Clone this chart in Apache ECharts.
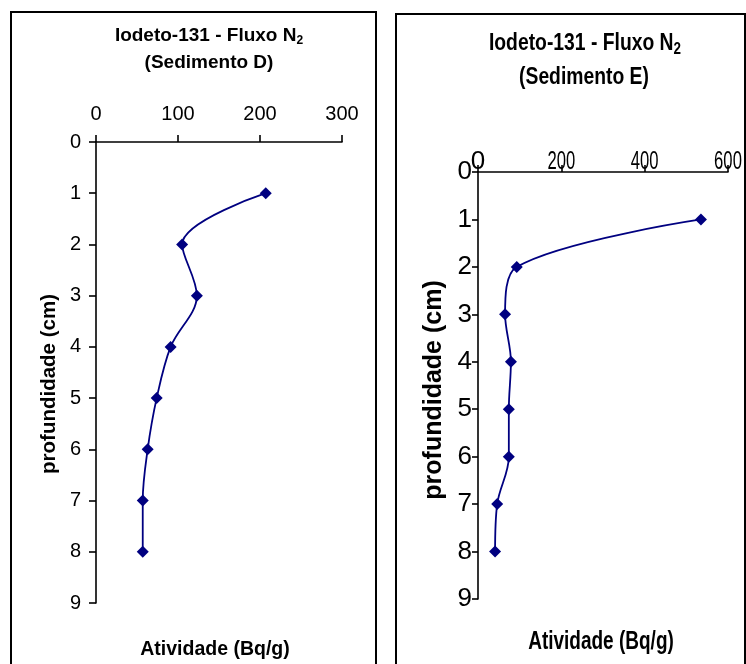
<!DOCTYPE html>
<html><head><meta charset="utf-8">
<script src="https://cdn.jsdelivr.net/npm/echarts@6/dist/echarts.min.js"></script>
<style>html,body{margin:0;padding:0;background:#fff}#c{width:746px;height:664px}</style>
</head><body><div id="c"></div>
<script>
// Depth (cm) and activity (Bq/g)
const depthD = [1, 2, 3, 4, 5, 6, 7, 8];
const activityD = [207, 105, 123, 91, 74, 63, 57, 57];
const depthE = [1, 2, 3, 4, 5, 6, 7, 8];
const activityE = [535, 93, 65, 79, 74, 74, 46, 41];
const ticksXD = [0, 100, 200, 300];
const ticksXE = [0, 200, 400, 600];
const titleD = ['Iodeto-131 - Fluxo N{sub|2}', '(Sedimento D)'];
const titleE = ['Iodeto-131 - Fluxo N{sub|2}', '(Sedimento E)'];
const yName = 'profundidade (cm)';
const xName = 'Atividade (Bq/g)';

const F = "'Liberation Sans', Arial, sans-serif";
const navy = '#000080';

const chart = echarts.init(document.getElementById('c'), null, {renderer: 'canvas'});
function pairs(xs, ys) { return xs.map((v, i) => [v, ys[i]]); }
const axLine = {show: true, lineStyle: {color: '#000', width: 1.6}};

chart.setOption({
  animation: false,
  backgroundColor: '#fff',
  grid: [
    {left: 96, top: 142, width: 246, height: 461},
    {left: 478, top: 172, width: 250, height: 427}
  ],
  xAxis: [
    {gridIndex: 0, type: 'value', position: 'top', min: ticksXD[0], max: ticksXD[3], interval: 100,
     axisLine: axLine,
     axisTick: {show: true, length: 7, lineStyle: {color: '#000', width: 1.6}},
     axisLabel: {color: '#000', fontFamily: F, fontSize: 20, margin: 18},
     splitLine: {show: false}},
    {gridIndex: 1, type: 'value', position: 'top', min: ticksXE[0], max: ticksXE[3], interval: 200,
     axisLine: axLine,
     axisTick: {show: true, length: 7, lineStyle: {color: '#000', width: 1.6}},
     axisLabel: {show: false},
     splitLine: {show: false}}
  ],
  yAxis: [
    {gridIndex: 0, type: 'value', inverse: true, min: 0, max: 9, interval: 1,
     axisLine: axLine,
     axisTick: {show: true, length: 7, lineStyle: {color: '#000', width: 1.6}},
     axisLabel: {color: '#000', fontFamily: F, fontSize: 20, margin: 15},
     splitLine: {show: false}},
    {gridIndex: 1, type: 'value', inverse: true, min: 0, max: 9, interval: 1,
     axisLine: axLine,
     axisTick: {show: true, length: 6, lineStyle: {color: '#000', width: 1.6}},
     axisLabel: {color: '#000', fontFamily: F, fontSize: 26, margin: 6},
     splitLine: {show: false}}
  ],
  series: [
    {type: 'line', xAxisIndex: 0, yAxisIndex: 0, data: pairs(activityD, depthD),
     smooth: 0.35, symbol: 'diamond', symbolSize: 12, showSymbol: true,
     lineStyle: {color: navy, width: 1.8}, itemStyle: {color: navy}},
    {type: 'line', xAxisIndex: 1, yAxisIndex: 1, data: pairs(activityE, depthE),
     smooth: 0.35, symbol: 'diamond', symbolSize: 12, showSymbol: true,
     lineStyle: {color: navy, width: 1.8}, itemStyle: {color: navy}}
  ]
});

const g = [
  {type: 'rect', shape: {x: 11, y: 12, width: 365, height: 700},
   style: {fill: 'none', stroke: '#000', lineWidth: 2}, silent: true},
  {type: 'rect', shape: {x: 396, y: 14, width: 349, height: 700},
   style: {fill: 'none', stroke: '#000', lineWidth: 2}, silent: true},
  // left panel texts
  {type: 'text', x: 209, y: 36, style: {text: titleD[0], align: 'center', verticalAlign: 'middle',
    fill: '#000', font: 'bold 19px ' + F,
    rich: {sub: {fontSize: 12, fontWeight: 'bold', fontFamily: F, padding: [9, 0, 0, 0]}}}},
  {type: 'text', x: 209, y: 63, style: {text: titleD[1], align: 'center', verticalAlign: 'middle',
    fill: '#000', font: 'bold 19px ' + F}},
  {type: 'text', x: 49, y: 384, rotation: Math.PI / 2, style: {text: yName, align: 'center', verticalAlign: 'middle',
    fill: '#000', font: 'bold 20.5px ' + F}},
  {type: 'text', x: 215, y: 650, style: {text: xName, align: 'center', verticalAlign: 'middle',
    fill: '#000', font: 'bold 19.5px ' + F}},
  // right panel texts (condensed look)
  {type: 'text', x: 585, y: 44, scaleX: 0.84, style: {text: titleE[0], align: 'center', verticalAlign: 'middle',
    fill: '#000', font: 'bold 23px ' + F,
    rich: {sub: {fontSize: 16, fontWeight: 'bold', fontFamily: F, padding: [12, 0, 0, 0]}}}},
  {type: 'text', x: 584, y: 78, scaleX: 0.84, style: {text: titleE[1], align: 'center', verticalAlign: 'middle',
    fill: '#000', font: 'bold 23px ' + F}},
  {type: 'text', x: 434, y: 390, rotation: Math.PI / 2, style: {text: yName, align: 'center', verticalAlign: 'middle',
    fill: '#000', font: 'bold 25px ' + F}},
  {type: 'text', x: 601, y: 642, scaleX: 0.76, style: {text: xName, align: 'center', verticalAlign: 'middle',
    fill: '#000', font: 'bold 25px ' + F}}
];
// right x-axis tick labels placed through the axis scale
ticksXE.forEach(v => {
  const px = chart.convertToPixel({xAxisIndex: 1}, v);
  g.push({type: 'text', x: px, y: 162, scaleX: String(v).length > 1 ? 0.64 : 1,
    style: {text: String(v), align: 'center', verticalAlign: 'middle', fill: '#000', font: '26px ' + F}});
});
chart.setOption({graphic: g});
</script></body></html>
